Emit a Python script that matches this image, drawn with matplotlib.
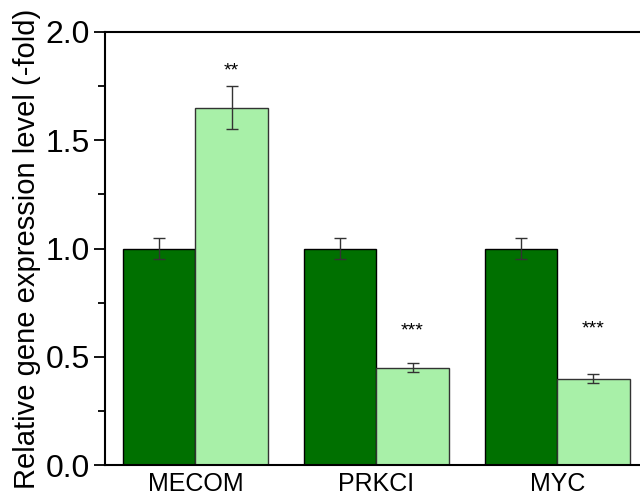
import numpy as np
import matplotlib
matplotlib.use('Agg')
import matplotlib.pyplot as plt
from matplotlib.ticker import MultipleLocator

# Relative expression values (control vs treated) with error bars
genes = ['MECOM', 'PRKCI', 'MYC']
control = [1.0, 1.0, 1.0]
control_err = [0.05, 0.05, 0.05]
treated = [1.65, 0.45, 0.40]
treated_err = [0.10, 0.02, 0.02]
stars = ['**', '***', '***']
star_y = [1.82, 0.62, 0.63]

plt.rcParams['font.family'] = ['Liberation Sans', 'DejaVu Sans']

fig = plt.figure(figsize=(6.4, 4.97), dpi=100)
ax = fig.add_axes([0.164, 0.064, 0.848, 0.872])

x = np.arange(len(genes))
w = 0.4
err_kw = dict(ecolor='#333333', elinewidth=1.0, capsize=4, capthick=1.0)
ax.bar(x - w / 2, control, w, yerr=control_err, color='#007000',
       edgecolor='black', linewidth=1.0, error_kw=err_kw)
ax.bar(x + w / 2, treated, w, yerr=treated_err, color='#a8f0a8',
       edgecolor='#333333', linewidth=1.0, error_kw=err_kw)

for xi, s, ys in zip(x, stars, star_y):
    ax.text(xi + w / 2, ys, s, ha='center', va='center', fontsize=14)

ax.set_xlim(-0.5, 2.5)
ax.set_ylim(0, 2.0)
ax.set_xticks(x)
ax.set_xticklabels(genes, fontsize=18)
ax.tick_params(axis='x', length=0, pad=5)
ax.yaxis.set_major_locator(MultipleLocator(0.5))
ax.yaxis.set_minor_locator(MultipleLocator(0.25))
ax.yaxis.set_major_formatter(matplotlib.ticker.FormatStrFormatter('%.1f'))
ax.tick_params(axis='y', which='major', length=8, width=1.3, labelsize=23, pad=3)
ax.tick_params(axis='y', which='minor', length=5, width=1.3)
ax.set_ylabel('Relative gene expression level (-fold)', fontsize=21, labelpad=3)

for sp in ax.spines.values():
    sp.set_linewidth(1.5)

fig.savefig('out.png', dpi=100)
